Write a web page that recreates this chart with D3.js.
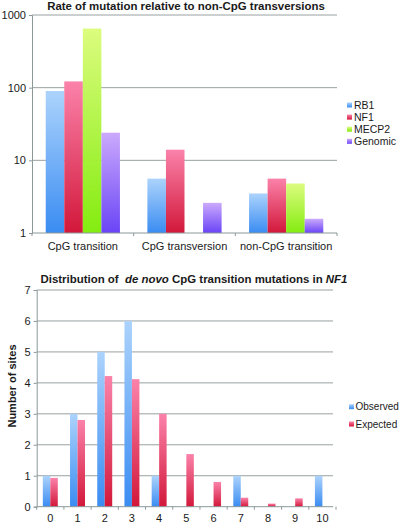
<!DOCTYPE html>
<html>
<head>
<meta charset="utf-8">
<script src="https://cdn.jsdelivr.net/npm/d3@7"></script>
<style>
  html, body { margin: 0; padding: 0; background: #fff; }
  svg { display: block; font-family: "Liberation Sans", Arial, sans-serif; }
</style>
</head>
<body>
<svg id="chart" width="400" height="525"></svg>
<script>
// ── Data ────────────────────────────────────────────────────────────────
const rateCategories = ['CpG transition', 'CpG transversion', 'non-CpG transition'];
const rateSeries = ['RB1', 'NF1', 'MECP2', 'Genomic'];
const rateRB1     = [90, 5.6, 3.5];
const rateNF1     = [122, 14, 5.6];
const rateMECP2   = [650, null, 4.8];
const rateGenomic = [24, 2.6, 1.57];
const rateTicks = [1, 10, 100, 1000];

const siteCategories = ['0', '1', '2', '3', '4', '5', '6', '7', '8', '9', '10'];
const siteSeries = ['Observed', 'Expected'];
const observed = [1, 3, 5, 6, 1, 0, 0, 1, 0, 0, 1];
const expected = [0.93, 2.8, 4.22, 4.12, 3.0, 1.7, 0.8, 0.29, 0.1, 0.27, 0];
const siteTicks = [0, 1, 2, 3, 4, 5, 6, 7];

// ── Styling ─────────────────────────────────────────────────────────────
const COLORS = {
  RB1:      { top: '#acd3fc', bottom: '#3a8cf2' },
  NF1:      { top: '#fb82aa', bottom: '#d2183a' },
  MECP2:    { top: '#dcfc7e', bottom: '#84ec10' },
  Genomic:  { top: '#cbaafc', bottom: '#6a44f6' },
};
COLORS.Observed = COLORS.RB1;
COLORS.Expected = COLORS.NF1;

const AXIS_COLOR = '#8c9898';
const GRID_COLOR = '#9aa0a0';
const TEXT_COLOR = '#1a1a1a';

const svg = d3.select('#chart');
const defs = svg.append('defs');

Object.keys(COLORS).forEach(k => {
  const grad = defs.append('linearGradient')
    .attr('id', 'grad-' + k)
    .attr('x1', 0).attr('y1', 0).attr('x2', 0).attr('y2', 1);
  grad.append('stop').attr('offset', '0%').attr('stop-color', COLORS[k].top);
  grad.append('stop').attr('offset', '100%').attr('stop-color', COLORS[k].bottom);
});

// shrink/grow a title so it spans the same width as in the source figure
function fitWidth(textSel, target) {
  const fs = parseFloat(textSel.attr('font-size'));
  const w = textSel.node().getComputedTextLength();
  if (w > 0) textSel.attr('font-size', (fs * target / w).toFixed(2) + 'px');
}

// ── Top chart: log rates ────────────────────────────────────────────────
(function topChart() {
  const left = 32, right = 337, top = 15, bottom = 233;
  const g = svg.append('g');

  const x = d3.scaleBand().domain(rateCategories).range([left, right])
    .paddingInner(0.27).paddingOuter(0.135);
  const xs = d3.scaleBand().domain(rateSeries).range([0, x.bandwidth()]).padding(0);
  const y = d3.scaleLog().domain([1, 1000]).range([bottom, top]);

  // gridlines
  g.append('g').selectAll('line')
    .data(rateTicks.slice(1))
    .join('line')
    .attr('x1', left).attr('x2', right)
    .attr('y1', d => y(d)).attr('y2', d => y(d))
    .attr('stroke', GRID_COLOR).attr('stroke-width', 1);

  // bars
  const seriesVals = { RB1: rateRB1, NF1: rateNF1, MECP2: rateMECP2, Genomic: rateGenomic };
  const bars = [];
  rateCategories.forEach((c, i) => {
    rateSeries.forEach(s => {
      const v = seriesVals[s][i];
      if (v != null) bars.push({ cat: c, series: s, value: v });
    });
  });
  g.append('g').selectAll('rect')
    .data(bars)
    .join('rect')
    .attr('x', d => x(d.cat) + xs(d.series))
    .attr('width', xs.bandwidth())
    .attr('y', d => y(d.value))
    .attr('height', d => y(1) - y(d.value))
    .attr('fill', d => `url(#grad-${d.series})`);

  // y axis
  const yAxis = g.append('g')
    .attr('transform', `translate(${left},0)`)
    .call(d3.axisLeft(y).tickValues(rateTicks).tickFormat(d3.format('d')).tickSize(3).tickPadding(3));
  yAxis.select('.domain').attr('stroke', AXIS_COLOR);
  yAxis.selectAll('line').attr('stroke', AXIS_COLOR);
  yAxis.selectAll('text').attr('fill', TEXT_COLOR).attr('font-size', '11px')
    .attr('font-family', '"Liberation Sans", Arial, sans-serif');

  // x axis
  const xAxis = g.append('g').attr('transform', `translate(0,${bottom})`);
  xAxis.append('line').attr('x1', left).attr('x2', right)
    .attr('stroke', AXIS_COLOR).attr('stroke-width', 1);
  const bounds = d3.range(rateCategories.length + 1).map(i => left + i * x.step());
  xAxis.selectAll('.tick').data(bounds).join('line')
    .attr('x1', d => d).attr('x2', d => d).attr('y1', 0).attr('y2', 3)
    .attr('stroke', AXIS_COLOR);
  xAxis.selectAll('text').data(rateCategories).join('text')
    .attr('x', d => x(d) + x.bandwidth() / 2)
    .attr('y', 17)
    .attr('text-anchor', 'middle')
    .attr('font-size', '11px')
    .attr('fill', TEXT_COLOR)
    .text(d => d);

  // title
  const title = g.append('text')
    .attr('x', 186).attr('y', 9.5)
    .attr('text-anchor', 'middle')
    .attr('font-size', '10px').attr('font-weight', 'bold')
    .attr('fill', TEXT_COLOR)
    .text('Rate of mutation relative to non-CpG transversions');
  fitWidth(title, 278);

  // legend
  const leg = g.append('g').attr('transform', 'translate(347,105)');
  const items = leg.selectAll('g').data(rateSeries).join('g')
    .attr('transform', (d, i) => `translate(0,${i * 12.1})`);
  items.append('rect').attr('x', 0).attr('y', -2.5).attr('width', 5).attr('height', 5)
    .attr('fill', d => `url(#grad-${d})`);
  items.append('text').attr('x', 7).attr('y', 0).attr('dy', '0.35em')
    .attr('font-size', '10.5px').attr('fill', TEXT_COLOR)
    .text(d => d);
})();

// ── Bottom chart: site distribution ─────────────────────────────────────
(function bottomChart() {
  const left = 36.7, right = 336, plotRight = 333, top = 290, bottom = 506.7;
  const g = svg.append('g');

  const x = d3.scaleBand().domain(siteCategories).range([left, right])
    .paddingInner(0.45).paddingOuter(0.225);
  const xs = d3.scaleBand().domain(siteSeries).range([0, x.bandwidth()]).padding(0);
  const y = d3.scaleLinear().domain([0, 7]).range([bottom, top]);

  // gridlines
  g.append('g').selectAll('line')
    .data(siteTicks.slice(1))
    .join('line')
    .attr('x1', left).attr('x2', plotRight)
    .attr('y1', d => y(d)).attr('y2', d => y(d))
    .attr('stroke', GRID_COLOR).attr('stroke-width', 1);

  const bars = [];
  siteCategories.forEach((c, i) => {
    bars.push({ cat: c, series: 'Observed', value: observed[i] });
    bars.push({ cat: c, series: 'Expected', value: expected[i] });
  });
  g.append('g').selectAll('rect')
    .data(bars.filter(d => d.value > 0))
    .join('rect')
    .attr('x', d => x(d.cat) + xs(d.series))
    .attr('width', xs.bandwidth())
    .attr('y', d => y(d.value))
    .attr('height', d => y(0) - y(d.value))
    .attr('fill', d => `url(#grad-${d.series})`);

  // y axis
  const yAxis = g.append('g')
    .attr('transform', `translate(${left},0)`)
    .call(d3.axisLeft(y).tickValues(siteTicks).tickFormat(d3.format('d')).tickSize(3).tickPadding(3));
  yAxis.select('.domain').attr('stroke', AXIS_COLOR);
  yAxis.selectAll('line').attr('stroke', AXIS_COLOR);
  yAxis.selectAll('text').attr('fill', TEXT_COLOR).attr('font-size', '11px')
    .attr('font-family', '"Liberation Sans", Arial, sans-serif');

  // x axis
  const xAxis = g.append('g').attr('transform', `translate(0,${bottom})`);
  xAxis.append('line').attr('x1', left).attr('x2', plotRight)
    .attr('stroke', AXIS_COLOR).attr('stroke-width', 1);
  const bounds = d3.range(siteCategories.length + 1).map(i => left + i * x.step());
  xAxis.selectAll('.tick').data(bounds).join('line')
    .attr('x1', d => d).attr('x2', d => d).attr('y1', 0).attr('y2', 3)
    .attr('stroke', AXIS_COLOR);
  xAxis.selectAll('text').data(siteCategories).join('text')
    .attr('x', d => x(d) + x.bandwidth() / 2)
    .attr('y', 15)
    .attr('text-anchor', 'middle')
    .attr('font-size', '11px')
    .attr('fill', TEXT_COLOR)
    .text(d => d);

  // y label
  g.append('text')
    .attr('transform', 'translate(15.5,386) rotate(-90)')
    .attr('text-anchor', 'middle')
    .attr('font-size', '11px').attr('font-weight', 'bold')
    .attr('fill', TEXT_COLOR)
    .text('Number of sites');

  // title
  const title = g.append('text')
    .attr('x', 40.5).attr('y', 283)
    .attr('font-size', '10px').attr('font-weight', 'bold')
    .attr('fill', TEXT_COLOR);
  title.append('tspan').text('Distribution of\u00a0\u00a0');
  title.append('tspan').attr('font-style', 'italic').text('de novo');
  title.append('tspan').text(' CpG transition mutations in ');
  title.append('tspan').attr('font-style', 'italic').text('NF1');
  fitWidth(title, 307);

  // legend
  const leg = g.append('g').attr('transform', 'translate(349,406.7)');
  const items = leg.selectAll('g').data(siteSeries).join('g')
    .attr('transform', (d, i) => `translate(0,${i * 17.3})`);
  items.append('rect').attr('x', 0).attr('y', -2.5).attr('width', 5).attr('height', 5)
    .attr('fill', d => `url(#grad-${d})`);
  items.append('text').attr('x', 6.5).attr('y', 0).attr('dy', '0.35em')
    .attr('font-size', '10px').attr('fill', TEXT_COLOR)
    .text(d => d);
})();
</script>
</body>
</html>
